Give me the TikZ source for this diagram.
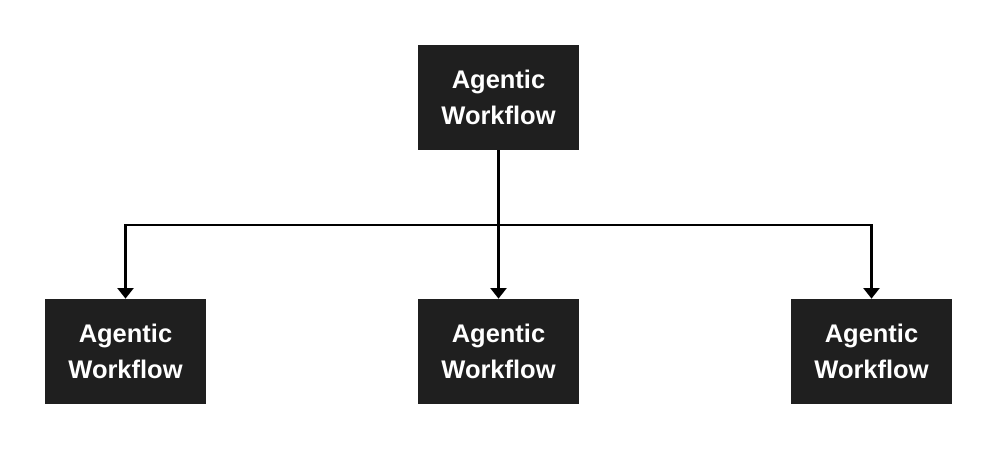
\documentclass[tikz,border=0pt]{standalone}
\usepackage{fontspec}
\setmainfont{Liberation Sans}
\usetikzlibrary{arrows.meta}
\definecolor{boxgray}{RGB}{31,31,31}

\begin{document}
\begin{tikzpicture}[x=1cm,y=1cm,
	agent/.style={fill=boxgray,text=white,font=\bfseries\fontsize{14.5}{20.5}\selectfont,
		minimum width=3.22cm,minimum height=2.1cm,align=center,inner sep=0pt},
	link/.style={line width=1.5pt,draw=black},
	tip/.style={-{Triangle[width=9pt,length=6pt]}}]
	\useasboundingbox (0,0) rectangle (20,9);
	% boxes
	\node[agent] (top) at (9.97,7.05) {Agentic\\Workflow};
	\node[agent] (left) at (2.51,1.97) {Agentic\\Workflow};
	\node[agent] (mid) at (9.97,1.97) {Agentic\\Workflow};
	\node[agent] (right) at (17.43,1.97) {Agentic\\Workflow};
	\coordinate (split) at (9.97,4.5);
	% connectors
	\draw[link] (top) -- (split);
	\draw[link,tip] (split) -| (left);
	\draw[link,tip] (split) -| (right);
	\draw[link,tip] (split) -- (mid);
\end{tikzpicture}
\end{document}
